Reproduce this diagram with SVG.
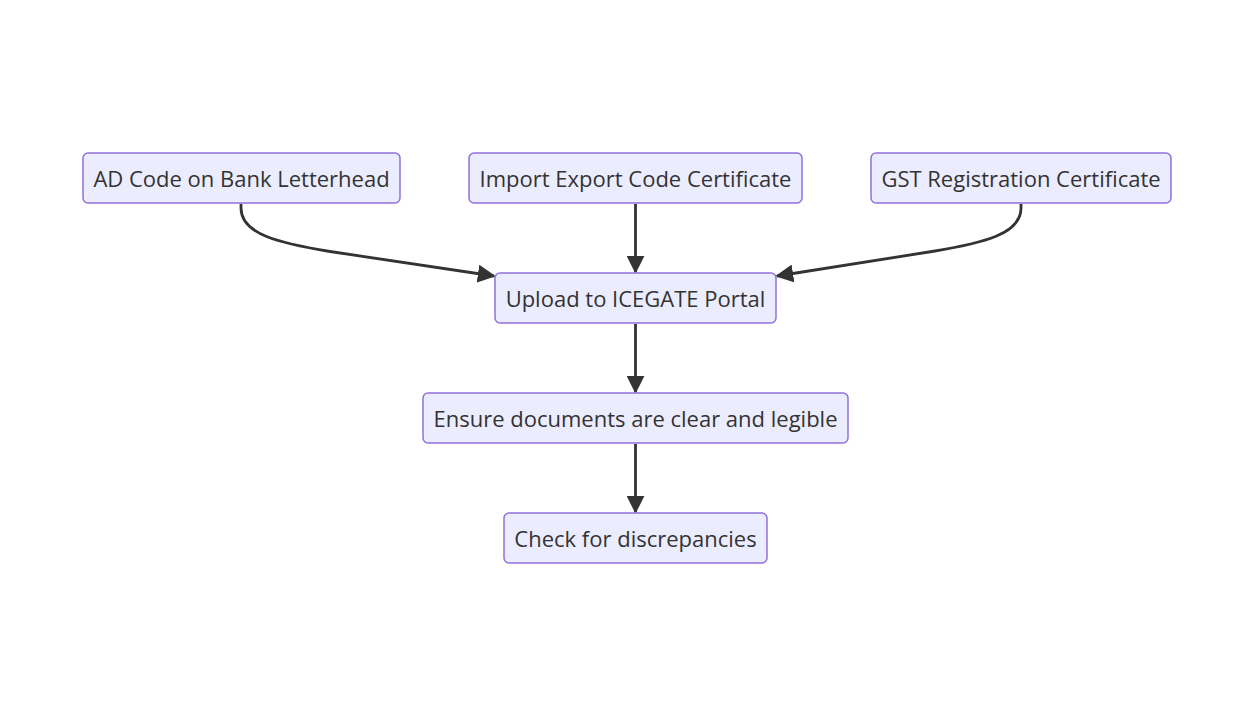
<svg xmlns="http://www.w3.org/2000/svg" width="1254" height="716" viewBox="0 0 1254 716">
<style>
.node rect{fill:#ECECFF;stroke:#9370DB;stroke-width:1.5}
.node text{font-family:"Open Sans","DejaVu Sans",sans-serif;font-size:22px;fill:#333;text-anchor:middle;dominant-baseline:central}
.edge{fill:none;stroke:#333;stroke-width:2.8}
</style>
<defs>
<marker id="arr" viewBox="0 0 10 10" refX="9" refY="5" markerWidth="18" markerHeight="18" markerUnits="userSpaceOnUse" orient="auto">
<path d="M0,0 L10,5 L0,10 z" fill="#333"/>
</marker>
</defs>
<rect width="1254" height="716" fill="#fff"/>
<g id="connectors">
<path class="edge" d="M241,204 L241,208 C241,234 278,243 330,251.5 L494,276" marker-end="url(#arr)"/>
<path class="edge" d="M635.5,204 L635.5,272" marker-end="url(#arr)"/>
<path class="edge" d="M1021,204 L1021,208 C1021,234 984,243 932,251.5 L777,276" marker-end="url(#arr)"/>
<path class="edge" d="M635.5,324 L635.5,392" marker-end="url(#arr)"/>
<path class="edge" d="M635.5,444 L635.5,512" marker-end="url(#arr)"/>
</g>
<g id="n1" class="node"><rect x="83" y="153" width="317" height="50" rx="5"/><text x="241.5" y="178">AD Code on Bank Letterhead</text></g>
<g id="n2" class="node"><rect x="469" y="153" width="333" height="50" rx="5"/><text x="635.5" y="178">Import Export Code Certificate</text></g>
<g id="n3" class="node"><rect x="871" y="153" width="300" height="50" rx="5"/><text x="1021" y="178">GST Registration Certificate</text></g>
<g id="n4" class="node"><rect x="495" y="273" width="281" height="50" rx="5"/><text x="635.5" y="298">Upload to ICEGATE Portal</text></g>
<g id="n5" class="node"><rect x="423" y="393" width="425" height="50" rx="5"/><text x="635.5" y="418">Ensure documents are clear and legible</text></g>
<g id="n6" class="node"><rect x="504" y="513" width="263" height="50" rx="5"/><text x="635.5" y="538">Check for discrepancies</text></g>
</svg>
